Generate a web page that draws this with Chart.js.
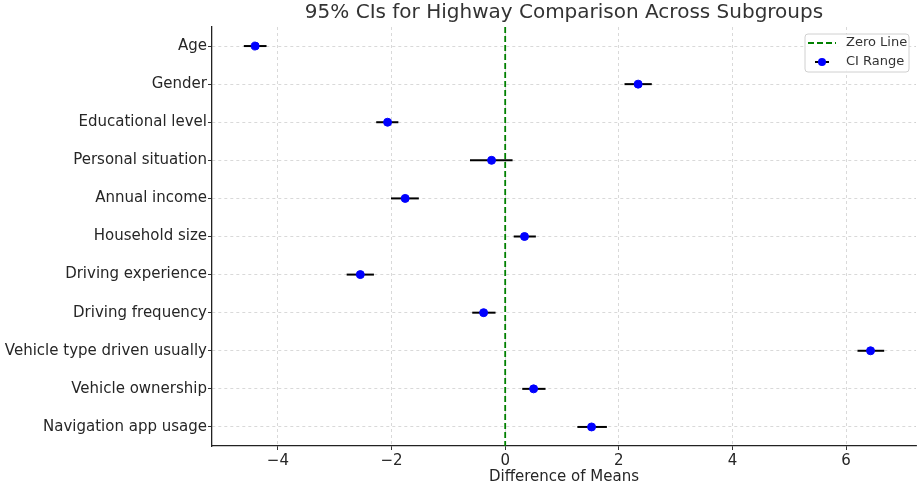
<!DOCTYPE html>
<html>
<head>
<meta charset="utf-8">
<script src="https://cdn.jsdelivr.net/npm/chart.js@4.4.1/dist/chart.umd.min.js"></script>
<style>
  html, body { margin: 0; padding: 0; background: #ffffff; }
  #wrap { width: 917px; height: 488px; position: relative; }
</style>
</head>
<body>
<div id="wrap"><canvas id="chart"></canvas></div>
<script>
// Subgroups, listed top to bottom
const categories = [
  "Age", "Gender", "Educational level", "Personal situation", "Annual income",
  "Household size", "Driving experience", "Driving frequency",
  "Vehicle type driven usually", "Vehicle ownership", "Navigation app usage"
];
// Difference of means and 95% CI bounds per subgroup
const means = [-4.40, 2.34, -2.07, -0.24, -1.76, 0.34, -2.55, -0.38, 6.43, 0.50, 1.52];
const lower = [-4.60, 2.10, -2.27, -0.62, -2.01, 0.15, -2.79, -0.58, 6.20, 0.30, 1.27];
const upper = [-4.20, 2.58, -1.88, 0.13, -1.52, 0.54, -2.31, -0.17, 6.67, 0.71, 1.79];
const xTicks = [-4, -2, 0, 2, 4, 6];

const FONT = "'DejaVu Sans', sans-serif";
const TEXT = "#262626";

const datasets = [];
datasets.push({
  type: 'scatter',
  label: 'CI Range',
  data: means.map((m, i) => ({ x: m, y: i })),
  backgroundColor: '#0000ff',
  borderColor: '#0000ff',
  pointRadius: 4,
  pointHoverRadius: 4,
  order: 0
});
categories.forEach((c, i) => {
  datasets.push({
    type: 'line',
    label: 'ci-' + i,
    data: [{ x: lower[i], y: i }, { x: upper[i], y: i }],
    borderColor: '#000000',
    borderWidth: 2,
    pointRadius: 0,
    order: 1
  });
});
datasets.push({
  type: 'line',
  label: 'Zero Line',
  data: [{ x: 0, y: -0.5 }, { x: 0, y: 10.5 }],
  borderColor: '#008000',
  borderWidth: 1.8,
  borderDash: [6, 3],
  pointRadius: 0,
  order: 2
});

// Title and in-plot legend box
const decorations = {
  id: 'decorations',
  afterDraw(chart) {
    const ctx = chart.ctx;
    const area = chart.chartArea;
    ctx.save();
    ctx.fillStyle = '#333333';
    ctx.font = '20px ' + FONT;
    ctx.textAlign = 'center';
    ctx.textBaseline = 'middle';
    ctx.fillText('95% CIs for Highway Comparison Across Subgroups', (area.left + area.right) / 2, 13);

    const bx = 805, by = 34, bw = 104, bh = 38, r = 3;
    ctx.beginPath();
    ctx.moveTo(bx + r, by);
    ctx.arcTo(bx + bw, by, bx + bw, by + bh, r);
    ctx.arcTo(bx + bw, by + bh, bx, by + bh, r);
    ctx.arcTo(bx, by + bh, bx, by, r);
    ctx.arcTo(bx, by, bx + bw, by, r);
    ctx.closePath();
    ctx.fillStyle = 'rgba(255,255,255,0.85)';
    ctx.fill();
    ctx.strokeStyle = '#d0d0d0';
    ctx.lineWidth = 1;
    ctx.stroke();

    // Zero Line entry
    ctx.beginPath();
    ctx.setLineDash([6, 3]);
    ctx.strokeStyle = '#008000';
    ctx.lineWidth = 1.8;
    ctx.moveTo(808, 43);
    ctx.lineTo(836, 43);
    ctx.stroke();
    ctx.setLineDash([]);

    // CI Range entry
    ctx.beginPath();
    ctx.strokeStyle = '#000000';
    ctx.lineWidth = 2;
    ctx.moveTo(815, 62);
    ctx.lineTo(829, 62);
    ctx.stroke();
    ctx.beginPath();
    ctx.fillStyle = '#0000ff';
    ctx.arc(822, 62, 4, 0, Math.PI * 2);
    ctx.fill();

    ctx.fillStyle = '#333333';
    ctx.font = '13px ' + FONT;
    ctx.textAlign = 'left';
    ctx.fillText('Zero Line', 846, 43);
    ctx.fillText('CI Range', 846, 62);
    ctx.restore();
  }
};

const gridStyle = {
  color: '#d0d0d0',
  lineWidth: 0.8,
  tickColor: '#333333',
  tickLength: 4,
  tickWidth: 1,
  tickBorderDash: []
};

new Chart(document.getElementById('chart'), {
  type: 'scatter',
  data: { datasets },
  plugins: [decorations],
  options: {
    responsive: true,
    maintainAspectRatio: false,
    animation: false,
    layout: { autoPadding: false, padding: { left: 0, right: 1, top: 27, bottom: 0 } },
    plugins: {
      legend: { display: false },
      title: { display: false },
      tooltip: { enabled: false }
    },
    scales: {
      x: {
        type: 'linear',
        min: -5.16,
        max: 7.23,
        afterBuildTicks(scale) { scale.ticks = xTicks.map(v => ({ value: v })); },
        afterFit(scale) {
          scale.height = 42;
          scale.paddingLeft = 0;
          scale.paddingRight = 0;
        },
        ticks: {
          color: TEXT,
          font: { family: FONT, size: 15 },
          padding: 2,
          maxRotation: 0,
          callback: v => (v < 0 ? '\u2212' + Math.abs(v) : String(v))
        },
        grid: gridStyle,
        border: { display: true, color: '#222222', width: 1.3, dash: [3, 3] },
        title: {
          display: true,
          text: 'Difference of Means',
          color: TEXT,
          font: { family: FONT, size: 15 },
          padding: { top: 0, bottom: 2 }
        }
      },
      y: {
        type: 'linear',
        reverse: true,
        min: -0.5,
        max: 10.5,
        afterBuildTicks(scale) { scale.ticks = categories.map((c, i) => ({ value: i })); },
        afterFit(scale) {
          scale.width = 212;
          scale.paddingTop = 0;
          scale.paddingBottom = 0;
        },
        ticks: {
          color: TEXT,
          font: { family: FONT, size: 15 },
          padding: 1,
          callback: v => categories[v]
        },
        grid: gridStyle,
        border: { display: true, color: '#222222', width: 1.3, dash: [3, 3] }
      }
    }
  }
});
</script>
</body>
</html>
